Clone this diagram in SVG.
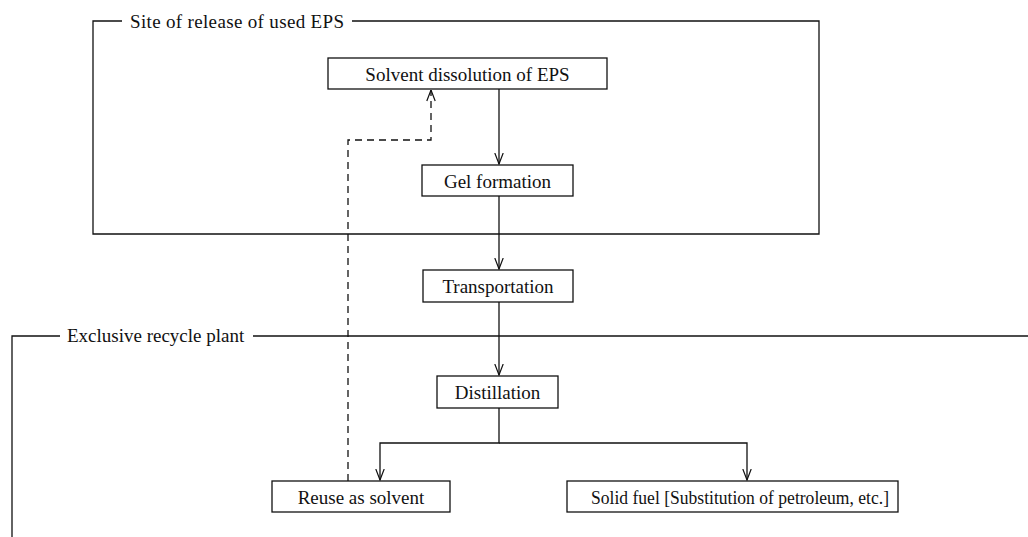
<svg xmlns="http://www.w3.org/2000/svg" width="1028" height="537" viewBox="0 0 1028 537">
<style>
.box{fill:#fff;stroke:#111;stroke-width:1.3}
.t{font-family:"Liberation Serif","Times New Roman",serif;font-size:19px;fill:#111}
.ln{fill:none;stroke:#111;stroke-width:1.3}
.dash{fill:none;stroke:#111;stroke-width:1.3;stroke-dasharray:7,5}
</style>
<defs>
<marker id="ah" markerWidth="12" markerHeight="10" refX="11.5" refY="5" orient="auto" markerUnits="userSpaceOnUse" viewBox="0 0 12 10">
<path d="M0.5,0.8 L11.5,5 L0.5,9.2" fill="none" stroke="#111" stroke-width="1.2"/>
</marker>
</defs>
<rect width="1028" height="537" fill="#fff"/>
<g id="frame-site">
<path class="ln" d="M122,21 H93 V234 H819 V21 H352"/>
<text class="t" x="130" y="28" textLength="214">Site of release of used EPS</text>
</g>
<g id="frame-plant">
<path class="ln" d="M60,336 H12 V537"/>
<path class="ln" d="M253,336 H1028"/>
<text class="t" x="67" y="342">Exclusive recycle plant</text>
</g>
<g id="connectors">
<line class="ln" x1="499" y1="89" x2="499" y2="164" marker-end="url(#ah)"/>
<line class="ln" x1="499" y1="196" x2="499" y2="269" marker-end="url(#ah)"/>
<line class="ln" x1="499" y1="302" x2="499" y2="375" marker-end="url(#ah)"/>
<path class="ln" d="M499,408 V443 H380 V480" marker-end="url(#ah)"/>
<path class="ln" d="M499,443 H747 V480" marker-end="url(#ah)"/>
<path class="dash" d="M348,481 V140 H431 V90" marker-end="url(#ah)"/>
</g>
<g id="n-dissolution">
<rect class="box" x="328" y="58" width="279" height="31"/>
<text class="t" x="467.5" y="81" text-anchor="middle">Solvent dissolution of EPS</text>
</g>
<g id="n-gel">
<rect class="box" x="422" y="165" width="151" height="31"/>
<text class="t" x="497.5" y="188" text-anchor="middle">Gel formation</text>
</g>
<g id="n-transport">
<rect class="box" x="423" y="270" width="150" height="32"/>
<text class="t" x="498" y="293" text-anchor="middle">Transportation</text>
</g>
<g id="n-distill">
<rect class="box" x="437" y="376" width="121" height="32"/>
<text class="t" x="497.5" y="399" text-anchor="middle">Distillation</text>
</g>
<g id="n-reuse">
<rect class="box" x="272" y="481" width="178" height="31"/>
<text class="t" x="361" y="504" text-anchor="middle">Reuse as solvent</text>
</g>
<g id="n-fuel">
<rect class="box" x="567" y="481" width="331" height="31"/>
<text class="t" x="591" y="504" textLength="298" lengthAdjust="spacingAndGlyphs">Solid fuel [Substitution of petroleum, etc.]</text>
</g>
</svg>
